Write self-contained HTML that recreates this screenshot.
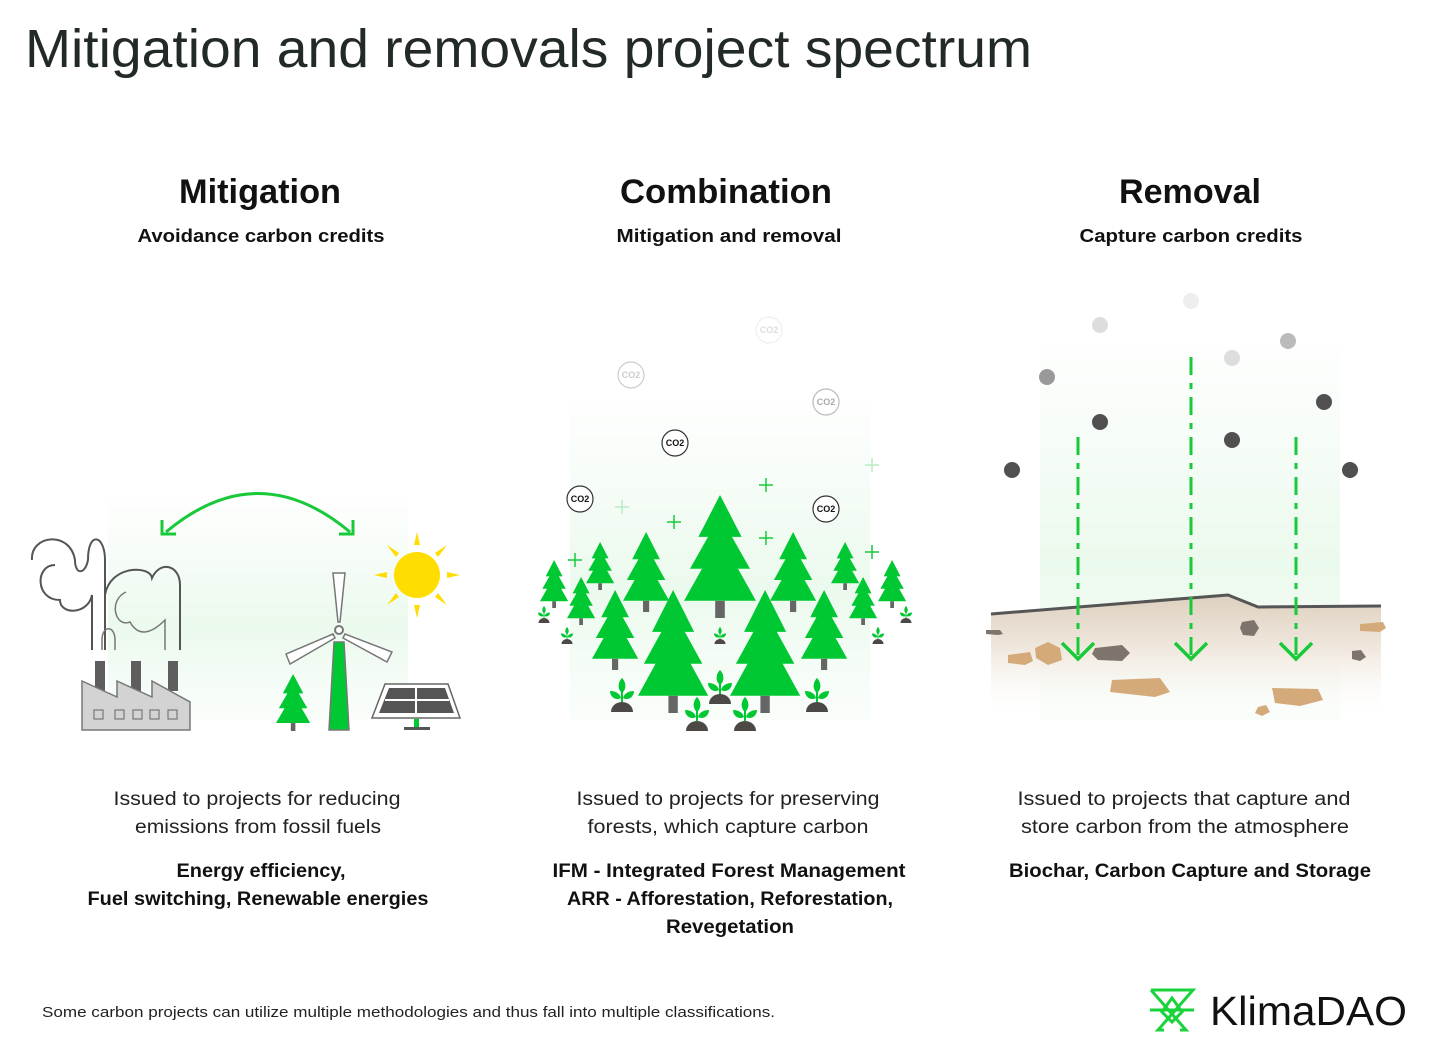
<!DOCTYPE html>
<html><head><meta charset="utf-8"><style>
html,body{margin:0;padding:0;background:#fff}
svg{display:block}
text{font-family:"Liberation Sans",sans-serif}
</style></head><body>
<svg width="1446" height="1052" viewBox="0 0 1446 1052" xmlns="http://www.w3.org/2000/svg">
<defs>
<linearGradient id="glow" x1="0" y1="0" x2="0" y2="1">
<stop offset="0" stop-color="#e8f8ea" stop-opacity="0"/>
<stop offset="0.6" stop-color="#e6f8e9" stop-opacity="0.8"/>
<stop offset="1" stop-color="#eefaf0" stop-opacity="0.3"/>
</linearGradient>
<linearGradient id="soil" x1="0" y1="0" x2="0" y2="1">
<stop offset="0" stop-color="#ddd0bf"/>
<stop offset="0.45" stop-color="#f1e9df"/>
<stop offset="1" stop-color="#fff" stop-opacity="0"/>
</linearGradient>
<g id="tree">
<polygon points="30,0 48,34 40,34 55,60 45,60 60,86 0,86 15,60 5,60 20,34 12,34" fill="#00c832"/>
<rect x="26" y="86" width="8" height="14" fill="#666"/>
</g>
<g id="sprout">
<path d="M-11,0 A11,10 0 0 1 11,0 Z" fill="#4b4845"/>
<path d="M0,-10 L0,-20" stroke="#00c832" stroke-width="2"/>
<path d="M0,-19 C-5,-23 -4,-30 0,-34 C4,-30 5,-23 0,-19Z" fill="#00c832"/>
<path d="M-1,-14 C-6,-11 -12,-15 -12,-21 C-6,-21 -2,-18 -1,-14Z" fill="#00c832"/>
<path d="M1,-14 C6,-11 12,-15 12,-21 C6,-21 2,-18 1,-14Z" fill="#00c832"/>
</g>
</defs>

<text x="25" y="67" font-size="54" fill="#222a27" textLength="1007" lengthAdjust="spacingAndGlyphs">Mitigation and removals project spectrum</text>

<g font-weight="bold" fill="#111" text-anchor="middle">
<text x="260" y="203" font-size="34" textLength="162" lengthAdjust="spacingAndGlyphs">Mitigation</text>
<text x="261" y="242" font-size="18" textLength="247" lengthAdjust="spacingAndGlyphs">Avoidance carbon credits</text>
<text x="726" y="203" font-size="34" textLength="212" lengthAdjust="spacingAndGlyphs">Combination</text>
<text x="729" y="242" font-size="18" textLength="225" lengthAdjust="spacingAndGlyphs">Mitigation and removal</text>
<text x="1190" y="203" font-size="34" textLength="142" lengthAdjust="spacingAndGlyphs">Removal</text>
<text x="1191" y="242" font-size="18" textLength="223" lengthAdjust="spacingAndGlyphs">Capture carbon credits</text>
</g>

<g fill="#222" font-size="19" text-anchor="middle">
<text x="257" y="805" textLength="287" lengthAdjust="spacingAndGlyphs">Issued to projects for reducing</text>
<text x="258" y="833" textLength="246" lengthAdjust="spacingAndGlyphs">emissions from fossil fuels</text>
<text x="728" y="805" textLength="303" lengthAdjust="spacingAndGlyphs">Issued to projects for preserving</text>
<text x="728" y="833" textLength="281" lengthAdjust="spacingAndGlyphs">forests, which capture carbon</text>
<text x="1184" y="805" textLength="333" lengthAdjust="spacingAndGlyphs">Issued to projects that capture and</text>
<text x="1185" y="833" textLength="328" lengthAdjust="spacingAndGlyphs">store carbon from the atmosphere</text>
</g>
<g fill="#111" font-size="19" font-weight="bold" text-anchor="middle">
<text x="261" y="877" textLength="169" lengthAdjust="spacingAndGlyphs">Energy efficiency,</text>
<text x="258" y="905" textLength="341" lengthAdjust="spacingAndGlyphs">Fuel switching, Renewable energies</text>
<text x="729" y="877" textLength="353" lengthAdjust="spacingAndGlyphs">IFM - Integrated Forest Management</text>
<text x="730" y="905" textLength="326" lengthAdjust="spacingAndGlyphs">ARR - Afforestation, Reforestation,</text>
<text x="730" y="933" textLength="128" lengthAdjust="spacingAndGlyphs">Revegetation</text>
<text x="1190" y="877" textLength="362" lengthAdjust="spacingAndGlyphs">Biochar, Carbon Capture and Storage</text>
</g>

<text x="42" y="1017" font-size="15" fill="#222" textLength="733" lengthAdjust="spacingAndGlyphs">Some carbon projects can utilize multiple methodologies and thus fall into multiple classifications.</text>

<!-- KlimaDAO logo -->
<g stroke="#19d33a" stroke-width="3" fill="none">
<path d="M1151,990 H1193 L1158,1030 H1164"/>
<path d="M1151,990 L1186,1030 H1180"/>
<path d="M1150,1010 H1194"/>
<path d="M1172,998 L1182,1012 L1172,1022 L1162,1012 Z"/>
</g>
<text x="1210" y="1025" font-size="41" fill="#111" textLength="197" lengthAdjust="spacingAndGlyphs">KlimaDAO</text>

<!-- LEFT ILLUSTRATION -->
<rect x="108" y="490" width="300" height="230" fill="url(#glow)"/>
<path d="M166,532 Q258,455 350,532" stroke="#19c93a" stroke-width="3" fill="none"/>
<path d="M162,520 L162,534 L176,534" stroke="#19c93a" stroke-width="3" fill="none"/>
<path d="M353,520 L353,534 L339,534" stroke="#19c93a" stroke-width="3" fill="none"/>
<g stroke="#555" stroke-width="2" fill="none">
<path d="M32,560 C30,535 70,530 75,560 C75,575 85,575 88,560 C88,530 105,535 105,560 L105,650"/>
<path d="M55,565 C35,565 35,600 60,600 C60,615 88,615 92,595 L92,650"/>
<path d="M105,595 C110,565 150,565 152,578 C160,560 180,565 180,585 L180,650"/>
<path d="M126,592 C108,600 115,628 130,622 C140,640 155,630 165,620 L165,650" stroke="#777" stroke-width="1.5"/>
<path d="M102,650 L102,640 C102,625 115,625 115,640 L115,650" stroke="#777" stroke-width="1.5"/>
</g>
<rect x="95" y="661" width="10" height="30" fill="#5e5e5e"/>
<rect x="131" y="661" width="10" height="30" fill="#5e5e5e"/>
<rect x="168" y="661" width="10" height="30" fill="#5e5e5e"/>
<polygon points="82,730 82,681 117,697 117,681 152,697 152,681 190,702 190,730" fill="#d3d3d3" stroke="#777" stroke-width="1.5"/>
<g fill="#d3d3d3" stroke="#777" stroke-width="1.2">
<rect x="94" y="710" width="9" height="9"/><rect x="115" y="710" width="9" height="9"/><rect x="133" y="710" width="9" height="9"/><rect x="150" y="710" width="9" height="9"/><rect x="168" y="710" width="9" height="9"/>
</g>
<use href="#tree" transform="translate(276,674) scale(0.57,0.57)"/>
<polygon points="334,642 344,642 349,730 329,730" fill="#00c832" stroke="#777" stroke-width="1.5"/>
<polygon points="333,573 345,573 340,622 338,622" fill="#fff" stroke="#777" stroke-width="1.5"/>
<polygon points="333,634 286,654 290,664 335,638" fill="#fff" stroke="#777" stroke-width="1.5"/>
<polygon points="345,634 392,652 387,662 343,638" fill="#fff" stroke="#777" stroke-width="1.5"/>
<circle cx="339" cy="630" r="4" fill="#fff" stroke="#777" stroke-width="2"/>
<circle cx="417" cy="575" r="23" fill="#ffdd00"/>
<g fill="#ffdd00">
<polygon points="417,532 414,545 420,545"/><polygon points="417,618 414,605 420,605"/>
<polygon points="374,575 387,572 387,578"/><polygon points="460,575 447,572 447,578"/>
<polygon points="387,545 396,557 399,553"/><polygon points="447,545 438,557 435,553"/>
<polygon points="387,605 396,593 399,597"/><polygon points="447,605 438,593 435,597"/>
</g>
<polygon points="385,684 448,684 460,718 372,718" fill="#fff" stroke="#666" stroke-width="1.5"/>
<polygon points="389,688 445,688 454,713 379,713" fill="#555"/>
<path d="M416,688 L416,713 M385,700 L449,700" stroke="#fff" stroke-width="2"/>
<rect x="414" y="719" width="5" height="8" fill="#00c832"/>
<rect x="404" y="727" width="26" height="3" fill="#555"/>

<!-- MIDDLE ILLUSTRATION -->
<rect x="570" y="390" width="300" height="330" fill="url(#glow)"/>
<g font-size="9" text-anchor="middle" font-weight="bold">
<g fill="#fff" stroke-width="1.2">
<circle cx="675" cy="443" r="13" stroke="#333"/><circle cx="580" cy="499" r="13" stroke="#333"/><circle cx="826" cy="509" r="13" stroke="#333"/>
<circle cx="631" cy="375" r="13" stroke="#ccc"/><circle cx="826" cy="402" r="13" stroke="#bbb"/><circle cx="769" cy="330" r="13" stroke="#eee"/>
</g>
<text x="675" y="446" fill="#111">CO2</text><text x="580" y="502" fill="#111">CO2</text><text x="826" y="512" fill="#111">CO2</text>
<text x="631" y="378" fill="#ccc">CO2</text><text x="826" y="405" fill="#aaa">CO2</text><text x="769" y="333" fill="#ddd">CO2</text>
</g>
<g stroke="#19c93a" stroke-width="1.5">
<path d="M667,522 h14 M674,515 v14"/><path d="M759,485 h14 M766,478 v14"/><path d="M759,538 h14 M766,531 v14"/>
<path d="M568,560 h14 M575,553 v14"/><path d="M865,552 h14 M872,545 v14"/>
<path d="M615,507 h14 M622,500 v14" stroke="#b8ecc3"/><path d="M865,465 h14 M872,458 v14" stroke="#b8ecc3"/>
</g>
<use href="#tree" transform="translate(540,560) scale(0.47,0.48)"/>
<use href="#tree" transform="translate(586,542) scale(0.47,0.48)"/>
<use href="#tree" transform="translate(567,577) scale(0.47,0.48)"/>
<use href="#tree" transform="translate(831,542) scale(0.47,0.48)"/>
<use href="#tree" transform="translate(849,577) scale(0.47,0.48)"/>
<use href="#tree" transform="translate(878,560) scale(0.47,0.48)"/>
<use href="#tree" transform="translate(623,532) scale(0.77,0.8)"/>
<use href="#tree" transform="translate(770,532) scale(0.77,0.8)"/>
<use href="#tree" transform="translate(592,590) scale(0.77,0.8)"/>
<use href="#tree" transform="translate(801,590) scale(0.77,0.8)"/>
<use href="#tree" transform="translate(684,495) scale(1.2,1.23)"/>
<use href="#tree" transform="translate(638,590) scale(1.17,1.23)"/>
<use href="#tree" transform="translate(730,590) scale(1.17,1.23)"/>
<use href="#sprout" transform="translate(622,712)"/>
<use href="#sprout" transform="translate(697,731)"/>
<use href="#sprout" transform="translate(745,731)"/>
<use href="#sprout" transform="translate(720,704)"/>
<use href="#sprout" transform="translate(817,712)"/>
<use href="#sprout" transform="translate(544,623) scale(0.5)"/>
<use href="#sprout" transform="translate(567,644) scale(0.5)"/>
<use href="#sprout" transform="translate(720,644) scale(0.5)"/>
<use href="#sprout" transform="translate(878,644) scale(0.5)"/>
<use href="#sprout" transform="translate(906,623) scale(0.5)"/>

<!-- RIGHT ILLUSTRATION -->
<rect x="1040" y="330" width="300" height="390" fill="url(#glow)"/>
<polygon points="991,614 1228,595 1258,607 1381,606 1381,720 991,720" fill="url(#soil)"/>
<path d="M991,614 L1228,595 L1258,607 L1381,606" stroke="#555" stroke-width="3" fill="none"/>
<g fill="#d4aa7a">
<polygon points="1008,655 1030,652 1033,661 1025,665 1008,663"/>
<polygon points="1035,648 1048,642 1060,648 1062,660 1048,665 1036,658"/>
<polygon points="1112,680 1160,678 1170,692 1155,697 1110,692"/>
<polygon points="1272,688 1318,689 1323,700 1300,706 1275,703"/>
<polygon points="1258,707 1266,705 1270,712 1262,716 1255,713"/>
<polygon points="1360,624 1383,622 1386,628 1380,632 1360,631"/>
</g>
<g fill="#7e746b">
<polygon points="1095,648 1122,645 1130,653 1122,661 1098,660 1092,654"/>
<polygon points="1242,622 1254,620 1259,628 1254,636 1243,635 1240,628"/>
<polygon points="1352,651 1361,650 1366,657 1360,661 1352,659"/>
<polygon points="986,630 1000,630 1003,634 998,635 986,634"/>
</g>
<g stroke="#19c93a" stroke-width="3" fill="none" stroke-dasharray="18,8,6,8">
<path d="M1078,437 V655"/><path d="M1191,357 V655"/><path d="M1296,437 V655"/>
</g>
<g stroke="#19c93a" stroke-width="3.5" fill="none">
<path d="M1062,643 L1078,659 L1094,643"/><path d="M1175,643 L1191,659 L1207,643"/><path d="M1280,643 L1296,659 L1312,643"/>
</g>
<circle cx="1012" cy="470" r="8" fill="#505050"/>
<circle cx="1100" cy="422" r="8" fill="#505050"/>
<circle cx="1232" cy="440" r="8" fill="#505050"/>
<circle cx="1324" cy="402" r="8" fill="#505050"/>
<circle cx="1350" cy="470" r="8" fill="#505050"/>
<circle cx="1047" cy="377" r="8" fill="#999"/>
<circle cx="1288" cy="341" r="8" fill="#bbb"/>
<circle cx="1100" cy="325" r="8" fill="#ddd"/>
<circle cx="1232" cy="358" r="8" fill="#ddd"/>
<circle cx="1191" cy="301" r="8" fill="#eee"/>
</svg>
</body></html>
